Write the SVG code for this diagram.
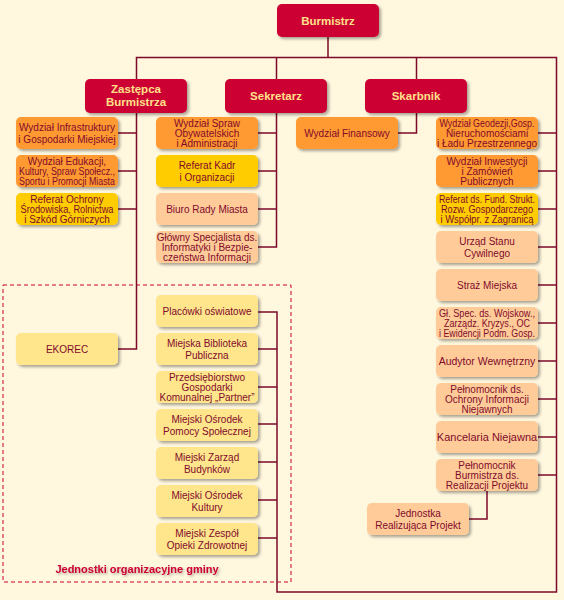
<svg xmlns="http://www.w3.org/2000/svg" width="564" height="600" viewBox="0 0 564 600">
<defs>
<filter id="sh" x="-10%" y="-20%" width="130%" height="150%">
<feDropShadow dx="2" dy="2" stdDeviation="1.5" flood-color="#000" flood-opacity="0.35"/>
</filter>
<filter id="tsh" x="-5%" y="-30%" width="115%" height="170%">
<feDropShadow dx="1.5" dy="1.5" stdDeviation="1" flood-color="#000" flood-opacity="0.3"/>
</filter>
</defs>
<style>
.b{stroke:none;filter:url(#sh)}
.red{fill:#CC0033}
.or{fill:#FF9933}
.go{fill:#FFCC00}
.pe{fill:#FFCC99}
.ly{fill:#FFE58C}
.t{font-family:"Liberation Sans",Arial,sans-serif;font-size:10px;fill:#7F0A2B;text-anchor:middle}
.h{font-family:"Liberation Sans",Arial,sans-serif;font-size:11.5px;font-weight:bold;fill:#FFE08A;text-anchor:middle}
.c{fill:none;stroke:#7D0A2A;stroke-width:1.5}
.lbl{font-family:"Liberation Sans",Arial,sans-serif;font-size:11px;font-weight:bold;fill:#CC0033;text-anchor:middle;filter:url(#tsh)}
</style>
<rect width="564" height="600" fill="#FFF7DE"/>
<rect x="3" y="285" width="288" height="297" fill="none" stroke="#CC0033" stroke-width="1" stroke-dasharray="4 3"/>
<g id="connectors" class="c">
<path d="M328 37V57.5"/>
<path d="M136.5 79V57.5H556.5V592H277V312H258"/>
<path d="M276.5 57.5V79"/>
<path d="M416.5 57.5V79"/>
<path d="M136.5 113V349H118M118 133H136.5M118 171H136.5M118 209H136.5"/>
<path d="M276.5 113V247H258M258 133H276.5M258 171H276.5M258 209H276.5"/>
<path d="M416.5 113V133H398"/>
<path d="M538 133H556.5M538 171H556.5M538 209H556.5M538 247H556.5M538 285H556.5M538 323H556.5M538 361H556.5M538 399H556.5M538 437H556.5M538 475H556.5"/>
<path d="M487 491V519H469"/>
<path d="M258 349H277M258 387H277M258 424H277M258 462H277M258 500H277M258 538H277"/>
</g>
<g id="burmistrz"><rect class="b red" x="277" y="4" width="102" height="33" rx="5"/><text class="h" x="328" y="25">Burmistrz</text></g>
<g id="zastepca"><rect class="b red" x="85" y="79" width="102" height="34" rx="5"/><text class="h" x="136" y="93">Zastępca</text><text class="h" x="136" y="106">Burmistrza</text></g>
<g id="sekretarz"><rect class="b red" x="225" y="79" width="102" height="34" rx="5"/><text class="h" x="276" y="100">Sekretarz</text></g>
<g id="skarbnik"><rect class="b red" x="365" y="79" width="102" height="34" rx="5"/><text class="h" x="416" y="100">Skarbnik</text></g>

<g id="infrastruktura"><rect class="b or" x="16" y="117" width="102" height="32" rx="5"/><text class="t" x="67" y="130.5">Wydział Infrastruktury</text><text class="t" x="67" y="142.5">i Gospodarki Miejskiej</text></g>
<g id="edukacja"><rect class="b or" x="16" y="155" width="102" height="32" rx="5"/><text class="t" x="67" y="164.5">Wydział Edukacji,</text><text class="t" x="67" y="174.5" textLength="96" lengthAdjust="spacingAndGlyphs">Kultury, Spraw Społecz.,</text><text class="t" x="67" y="184.5" textLength="96" lengthAdjust="spacingAndGlyphs">Sportu i Promocji Miasta</text></g>
<g id="srodowisko"><rect class="b go" x="16" y="193" width="102" height="32" rx="5"/><text class="t" x="67" y="202.5">Referat Ochrony</text><text class="t" x="67" y="212.5" textLength="93" lengthAdjust="spacingAndGlyphs">Środowiska, Rolnictwa</text><text class="t" x="67" y="222.5">i Szkód Górniczych</text></g>

<g id="obywatelskie"><rect class="b or" x="156" y="117" width="102" height="32" rx="5"/><text class="t" x="207" y="126.5">Wydział Spraw</text><text class="t" x="207" y="136.5">Obywatelskich</text><text class="t" x="207" y="146.5">i Administracji</text></g>
<g id="kadry"><rect class="b go" x="156" y="155" width="102" height="32" rx="5"/><text class="t" x="207" y="168.5">Referat Kadr</text><text class="t" x="207" y="180.5">i Organizacji</text></g>
<g id="biuro"><rect class="b pe" x="156" y="193" width="102" height="32" rx="5"/><text class="t" x="207" y="212.5">Biuro Rady Miasta</text></g>
<g id="informatyk"><rect class="b pe" x="156" y="231" width="102" height="32" rx="5"/><text class="t" x="207" y="240.5">Główny Specjalista ds.</text><text class="t" x="207" y="250.5">Informatyki i Bezpie-</text><text class="t" x="207" y="260.5">czeństwa Informacji</text></g>

<g id="finansowy"><rect class="b or" x="296" y="117" width="102" height="32" rx="5"/><text class="t" x="347" y="136.5">Wydział Finansowy</text></g>

<g id="geodezja"><rect class="b or" x="436" y="117" width="102" height="32" rx="5"/><text class="t" x="487" y="126.5" textLength="95" lengthAdjust="spacingAndGlyphs">Wydział Geodezji,Gosp.</text><text class="t" x="487" y="136.5">Nieruchomościami</text><text class="t" x="487" y="146.5">i Ładu Przestrzennego</text></g>
<g id="inwestycje"><rect class="b or" x="436" y="155" width="102" height="32" rx="5"/><text class="t" x="487" y="164.5">Wydział Inwestycji</text><text class="t" x="487" y="174.5">i Zamówień</text><text class="t" x="487" y="184.5">Publicznych</text></g>
<g id="fundusze"><rect class="b go" x="436" y="193" width="102" height="32" rx="5"/><text class="t" x="487" y="202.5" textLength="96" lengthAdjust="spacingAndGlyphs">Referat ds. Fund. Strukt.</text><text class="t" x="487" y="212.5" textLength="92" lengthAdjust="spacingAndGlyphs">Rozw. Gospodarczego</text><text class="t" x="487" y="222.5" textLength="93" lengthAdjust="spacingAndGlyphs">i Współpr. z Zagranicą</text></g>
<g id="usc"><rect class="b pe" x="436" y="231" width="102" height="32" rx="5"/><text class="t" x="487" y="244.5">Urząd Stanu</text><text class="t" x="487" y="256.5">Cywilnego</text></g>
<g id="straz"><rect class="b pe" x="436" y="269" width="102" height="32" rx="5"/><text class="t" x="487" y="288.5">Straż Miejska</text></g>
<g id="wojskowe"><rect class="b pe" x="436" y="307" width="102" height="32" rx="5"/><text class="t" x="487" y="316.5" textLength="96" lengthAdjust="spacingAndGlyphs">Gł. Spec. ds. Wojskow.,</text><text class="t" x="487" y="326.5" textLength="86" lengthAdjust="spacingAndGlyphs">Zarządz. Kryzys., OC</text><text class="t" x="487" y="336.5" textLength="96" lengthAdjust="spacingAndGlyphs">i Ewidencji Podm. Gosp.</text></g>
<g id="audytor"><rect class="b pe" x="436" y="345" width="102" height="32" rx="5"/><text class="t" x="487" y="364.5" style="font-size:10.5px">Audytor Wewnętrzny</text></g>
<g id="pelnomocnik"><rect class="b pe" x="436" y="383" width="102" height="32" rx="5"/><text class="t" x="487" y="392.5">Pełnomocnik ds.</text><text class="t" x="487" y="402.5">Ochrony Informacji</text><text class="t" x="487" y="412.5">Niejawnych</text></g>
<g id="kancelaria"><rect class="b pe" x="436" y="421" width="102" height="32" rx="5"/><text class="t" x="487" y="441" style="font-size:11px">Kancelaria Niejawna</text></g>
<g id="pelnomocnik-projekt"><rect class="b pe" x="436" y="459" width="102" height="32" rx="5"/><text class="t" x="487" y="468.5">Pełnomocnik</text><text class="t" x="487" y="478.5">Burmistrza ds.</text><text class="t" x="487" y="488.5">Realizacji Projektu</text></g>
<g id="jednostka-projekt"><rect class="b pe" x="367" y="503" width="102" height="32" rx="5"/><text class="t" x="418" y="516.5">Jednostka</text><text class="t" x="418" y="528.5">Realizująca Projekt</text></g>

<g id="ekorec"><rect class="b ly" x="16" y="333" width="102" height="32" rx="5"/><text class="t" x="67" y="352.5">EKOREC</text></g>

<g id="placowki"><rect class="b ly" x="156" y="295" width="102" height="32" rx="5"/><text class="t" x="207" y="314.5">Placówki oświatowe</text></g>
<g id="biblioteka"><rect class="b ly" x="156" y="333" width="102" height="32" rx="5"/><text class="t" x="207" y="346.5">Miejska Biblioteka</text><text class="t" x="207" y="358.5">Publiczna</text></g>
<g id="partner"><rect class="b ly" x="156" y="371" width="102" height="32" rx="5"/><text class="t" x="207" y="380.5">Przedsiębiorstwo</text><text class="t" x="207" y="390.5">Gospodarki</text><text class="t" x="207" y="400.5">Komunalnej „Partner”</text></g>
<g id="mops"><rect class="b ly" x="156" y="409" width="102" height="32" rx="5"/><text class="t" x="207" y="422.5">Miejski Ośrodek</text><text class="t" x="207" y="434.5">Pomocy Społecznej</text></g>
<g id="mzb"><rect class="b ly" x="156" y="447" width="102" height="32" rx="5"/><text class="t" x="207" y="460.5">Miejski Zarząd</text><text class="t" x="207" y="472.5">Budynków</text></g>
<g id="mok"><rect class="b ly" x="156" y="485" width="102" height="32" rx="5"/><text class="t" x="207" y="498.5">Miejski Ośrodek</text><text class="t" x="207" y="510.5">Kultury</text></g>
<g id="mzoz"><rect class="b ly" x="156" y="523" width="102" height="32" rx="5"/><text class="t" x="207" y="536.5">Miejski Zespół</text><text class="t" x="207" y="548.5">Opieki Zdrowotnej</text></g>

<text class="lbl" x="137" y="573">Jednostki organizacyjne gminy</text>
</svg>
